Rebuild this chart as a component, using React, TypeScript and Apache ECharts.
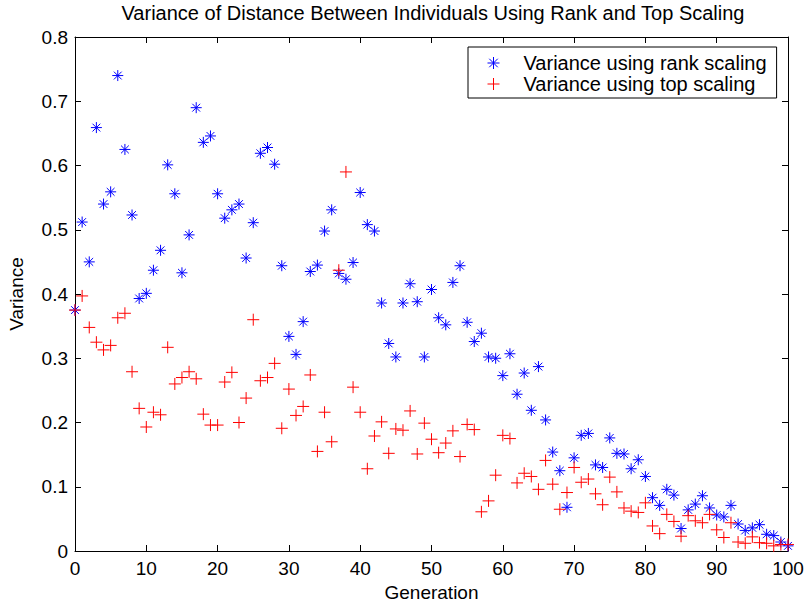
import React, { useEffect, useRef } from "react";
import * as echarts from "echarts";

const generations = Array.from({ length: 101 }, (_, i) => i);

const rankVariance = [
  0.375, 0.512, 0.45, 0.659, 0.54, 0.559, 0.74, 0.625, 0.523, 0.393,
  0.401, 0.437, 0.468, 0.601, 0.556, 0.433, 0.492, 0.69, 0.636, 0.646,
  0.556, 0.518, 0.531, 0.54, 0.456, 0.511, 0.619, 0.628, 0.602, 0.444,
  0.334, 0.306, 0.357, 0.435, 0.445, 0.498, 0.531, 0.432, 0.423, 0.449,
  0.558, 0.508, 0.498, 0.386, 0.323, 0.302, 0.386, 0.416, 0.388, 0.302,
  0.407, 0.363, 0.352, 0.418, 0.444, 0.356, 0.326, 0.339, 0.302, 0.3,
  0.273, 0.307, 0.244, 0.277, 0.219, 0.287, 0.204, 0.154, 0.125, 0.068,
  0.145, 0.18, 0.183, 0.134, 0.13, 0.176, 0.152, 0.151, 0.128, 0.142,
  0.116, 0.083, 0.071, 0.096, 0.087, 0.035, 0.064, 0.073, 0.086, 0.067,
  0.056, 0.053, 0.071, 0.042, 0.032, 0.036, 0.041, 0.026, 0.024, 0.014,
  0.008,
];

const topVariance = [
  0.375, 0.397, 0.348, 0.325, 0.313, 0.32, 0.363, 0.37, 0.279, 0.222,
  0.193, 0.216, 0.212, 0.317, 0.26, 0.27, 0.279, 0.268, 0.213, 0.196,
  0.196, 0.263, 0.278, 0.2, 0.238, 0.36, 0.265, 0.27, 0.292, 0.191,
  0.252, 0.211, 0.225, 0.274, 0.155, 0.216, 0.17, 0.437, 0.59, 0.255,
  0.216, 0.128, 0.179, 0.201, 0.152, 0.19, 0.188, 0.218, 0.151, 0.199,
  0.174, 0.153, 0.168, 0.187, 0.147, 0.197, 0.189, 0.061, 0.078, 0.118,
  0.18, 0.175, 0.106, 0.121, 0.116, 0.096, 0.141, 0.104, 0.065, 0.091,
  0.13, 0.107, 0.112, 0.089, 0.072, 0.115, 0.092, 0.067, 0.062, 0.06,
  0.075, 0.039, 0.027, 0.057, 0.046, 0.023, 0.055, 0.047, 0.044, 0.057,
  0.033, 0.021, 0.044, 0.014, 0.012, 0.022, 0.013, 0.012, 0.008, 0.01,
  0.01,
];

const seriesNames = ["Variance using rank scaling", "Variance using top scaling"];
const titleText = "Variance of Distance Between Individuals Using Rank and Top Scaling";
const xName = "Generation";
const yName = "Variance";

const STAR =
  "path://M0,-10L0,10M-10,0L10,0M-7.07,-7.07L7.07,7.07M-7.07,7.07L7.07,-7.07";
const PLUS = "path://M0,-10L0,10M-10,0L10,0";

const FONT = "'Liberation Sans', Arial, Helvetica, sans-serif";

export default function App() {
  const ref = useRef<HTMLDivElement>(null);

  useEffect(() => {
    if (!ref.current) return;
    const chart = echarts.init(ref.current, null, { renderer: "svg" });

    const axisCommon = {
      axisLine: { show: true, onZero: false, lineStyle: { color: "#000", width: 1 } },
      axisTick: { show: true, inside: true, length: 6, lineStyle: { color: "#000", width: 1 } },
      splitLine: { show: false },
    };

    chart.setOption({
      animation: false,
      backgroundColor: "#ffffff",
      textStyle: { fontFamily: FONT },
      title: {
        text: titleText,
        left: 433,
        textAlign: "center",
        top: 3,
        padding: 0,
        textStyle: { fontFamily: FONT, fontSize: 20, fontWeight: "normal", color: "#000" },
      },
      legend: {
        show: true,
        orient: "vertical",
        left: 468,
        top: 47,
        padding: [6, 10, 4, 19],
        itemGap: 1,
        itemWidth: 50,
        itemHeight: 12,
        borderColor: "#000",
        borderWidth: 1,
        backgroundColor: "#fff",
        textStyle: { fontFamily: FONT, fontSize: 20, color: "#000" },
        itemStyle: { borderWidth: 1 },
        data: [
          { name: seriesNames[0], icon: STAR },
          { name: seriesNames[1], icon: PLUS },
        ],
      },
      grid: {
        left: 75,
        right: 19,
        top: 37,
        bottom: 53,
        outerBoundsMode: "none",
        containLabel: false,
      },
      xAxis: [
        {
          type: "value",
          min: 0,
          max: 100,
          interval: 10,
          position: "bottom",
          name: xName,
          nameLocation: "middle",
          nameGap: 27,
          nameTextStyle: { fontFamily: FONT, fontSize: 19, color: "#000" },
          axisLabel: { fontFamily: FONT, fontSize: 19, color: "#000", margin: 8 },
          ...axisCommon,
        },
        {
          type: "value",
          min: 0,
          max: 100,
          interval: 10,
          position: "top",
          axisLabel: { show: false },
          ...axisCommon,
        },
      ],
      yAxis: [
        {
          type: "value",
          min: 0,
          max: 0.8,
          interval: 0.1,
          position: "left",
          name: yName,
          nameLocation: "middle",
          nameGap: 49,
          nameTextStyle: { fontFamily: FONT, fontSize: 19, color: "#000" },
          axisLabel: { fontFamily: FONT, fontSize: 19, color: "#000", margin: 7 },
          ...axisCommon,
        },
        {
          type: "value",
          min: 0,
          max: 0.8,
          interval: 0.1,
          position: "right",
          axisLabel: { show: false },
          ...axisCommon,
        },
      ],
      series: [
        {
          name: seriesNames[0],
          type: "scatter",
          xAxisIndex: 0,
          yAxisIndex: 0,
          symbol: STAR,
          symbolSize: 11,
          symbolKeepAspect: true,
          itemStyle: { color: "rgba(0,0,255,0)", borderColor: "#0000ff", borderWidth: 1, opacity: 1 },
          data: generations.map((g, i) => [g, rankVariance[i]]),
        },
        {
          name: seriesNames[1],
          type: "scatter",
          xAxisIndex: 0,
          yAxisIndex: 0,
          symbol: PLUS,
          symbolSize: 12,
          symbolKeepAspect: true,
          itemStyle: { color: "rgba(255,0,0,0)", borderColor: "#ff0000", borderWidth: 1, opacity: 1 },
          data: generations.map((g, i) => [g, topVariance[i]]),
        },
      ],
    });

    return () => {
      chart.dispose();
    };
  }, []);

  return (
    <div
      ref={ref}
      style={{ position: "fixed", left: 0, top: 0, width: 807, height: 604, background: "#fff" }}
    />
  );
}
